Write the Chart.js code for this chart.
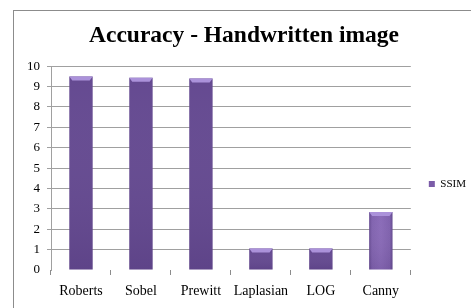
<!DOCTYPE html>
<html>
<head>
<meta charset="utf-8">
<script src="https://cdn.jsdelivr.net/npm/chart.js@4"></script>
<style>
  html, body { margin:0; padding:0; background:#fff; }
  #wrap { position:relative; width:471px; height:308px; overflow:hidden; }
  #frame { position:absolute; left:13px; top:10px; width:480px; height:320px; border:1px solid #8c8c8c; box-sizing:border-box; }
  canvas { position:absolute; left:0; top:0; }
</style>
</head>
<body>
<div id="wrap">
  <div id="frame"></div>
  <canvas id="chart" width="471" height="308"></canvas>
</div>
<script>
// data
const categories = ['Roberts', 'Sobel', 'Prewitt', 'Laplasian', 'LOG', 'Canny'];
const ssim = [9.49, 9.43, 9.40, 1.06, 1.06, 2.84];
const yTicks = [0, 1, 2, 3, 4, 5, 6, 7, 8, 9, 10];

const serif = '"Liberation Serif", "Times New Roman", serif';

// paint each bar with a soft horizontal shade, then a light bevel on top
const barLook = {
  id: 'barLook',
  afterLayout(chart){
    // Excel puts the legend a bit lower and further right
    chart.legend.top += 60;
    chart.legend.left += 8;
  },
  beforeDatasetsDraw(chart){
    const ctx = chart.ctx;
    chart.getDatasetMeta(0).data.forEach(bar => {
      const l = bar.x - bar.width/2, r = bar.x + bar.width/2;
      const g = ctx.createLinearGradient(l, 0, r, 0);
      g.addColorStop(0, '#654a91');
      g.addColorStop(0.12, '#8163af');
      g.addColorStop(0.5, '#8a6bb8');
      g.addColorStop(0.88, '#7f61ad');
      g.addColorStop(1, '#62488e');
      bar.options.backgroundColor = g;
    });
  },
  afterDatasetsDraw(chart){
    const ctx = chart.ctx;
    ctx.save();
    chart.getDatasetMeta(0).data.forEach(bar => {
      const l = bar.x - bar.width/2, r = bar.x + bar.width/2, t = bar.y;
      ctx.fillStyle = '#ab92da';
      ctx.beginPath();
      ctx.moveTo(l, t); ctx.lineTo(r, t); ctx.lineTo(r - 3, t + 4); ctx.lineTo(l + 3, t + 4);
      ctx.closePath(); ctx.fill();
      const v = ctx.createLinearGradient(0, t, 0, bar.base);
      v.addColorStop(0, 'rgba(255,255,255,0)');
      v.addColorStop(1, 'rgba(30,10,60,0.1)');
      ctx.fillStyle = v;
      ctx.fillRect(l, t + 4, r - l, bar.base - t - 4);
    });
    ctx.restore();
  }
};

new Chart(document.getElementById('chart'), {
  type: 'bar',
  data: {
    labels: categories,
    datasets: [{
      label: 'SSIM',
      data: ssim,
      backgroundColor: '#7b5ca8',
      borderWidth: 0,
      barPercentage: 0.78,
      categoryPercentage: 0.5
    }]
  },
  plugins: [barLook],
  options: {
    responsive: false,
    animation: false,
    layout: { padding: { left: 20, right: 3, top: 0, bottom: 0 } },
    plugins: {
      title: {
        display: true,
        text: 'Accuracy - Handwritten image',
        color: '#000',
        font: { family: serif, size: 23.5, weight: 'bold' },
        padding: { top: 22, bottom: 16 }
      },
      legend: {
        position: 'right',
        labels: {
          color: '#000',
          font: { family: serif, size: 11 },
          boxWidth: 6,
          boxHeight: 6,
          padding: 10
        }
      },
      tooltip: { enabled: false }
    },
    scales: {
      x: {
        grid: { display: true, offset: true, drawOnChartArea: false, color: '#8c8c8c', tickLength: 5 },
        border: { display: false },
        ticks: { color: '#000', font: { family: serif, size: 14 }, padding: 8, maxRotation: 0 },
        afterFit: (s) => { s.height = 38; }
      },
      y: {
        min: 0,
        max: 10,
        afterBuildTicks: (s) => { s.ticks = yTicks.map(v => ({ value: v })); },
        grid: { color: (c) => c.tick && c.tick.value === 0 ? 'rgba(0,0,0,0)' : '#a0a0a0', tickLength: 4 },
        border: { display: true, color: '#a0a0a0' },
        ticks: { color: '#000', font: { family: serif, size: 13 }, padding: 7 },
        afterFit: (s) => { s.width = 31; }
      }
    }
  }
});
</script>
</body>
</html>
